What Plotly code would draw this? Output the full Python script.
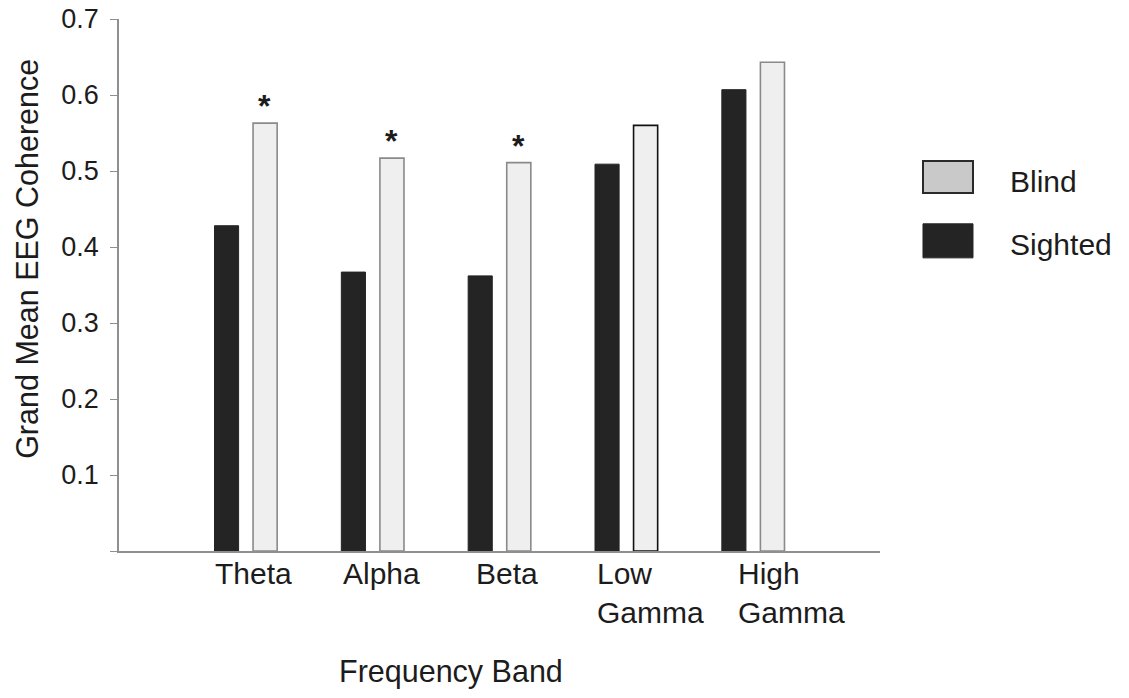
import plotly.graph_objects as go

# Frequency bands and grand-mean coherence per group
bands = ["Theta", "Alpha", "Beta", "Low Gamma", "High Gamma"]
band_labels = ["Theta", "Alpha", "Beta", "Low<br>Gamma", "High<br>Gamma"]
sighted = [0.428, 0.367, 0.362, 0.509, 0.607]
blind = [0.563, 0.517, 0.511, 0.560, 0.643]
significant = [True, True, True, False, False]
y_ticks = [0, 0.1, 0.2, 0.3, 0.4, 0.5, 0.6, 0.7]
y_tick_text = ["", "0.1", "0.2", "0.3", "0.4", "0.5", "0.6", "0.7"]

FONT = "Liberation Sans, Arial, Helvetica, sans-serif"
INK = "#1c1c1c"

fig = go.Figure()
fig.add_trace(go.Bar(
    x=bands, y=sighted, name="Sighted",
    marker=dict(color="#242424", line=dict(color="#242424", width=1)),
))
fig.add_trace(go.Bar(
    x=bands, y=blind, name="Blind",
    marker=dict(color="#efefef",
                line=dict(color=["#8a8a8a", "#8a8a8a", "#8a8a8a", "#111111", "#8a8a8a"],
                          width=1.6)),
))

annotations = []
# significance markers above the blind bars
for b, v, sig in zip(bands, blind, significant):
    if sig:
        annotations.append(dict(
            x=b, y=v, xref="x", yref="y", text="<b>*</b>", showarrow=False,
            xshift=19, yanchor="bottom", yshift=-3,
            font=dict(family=FONT, size=32, color=INK),
        ))

# category labels, left aligned under each pair of bars
label_shift = [-33, -32, -26, -31, -17]
for b, lab, dx in zip(bands, band_labels, label_shift):
    annotations.append(dict(
        x=b, y=0, xref="x", yref="paper", text=lab, showarrow=False,
        xanchor="left", yanchor="top", align="left", xshift=dx, yshift=-4,
        font=dict(family=FONT, size=30, color=INK),
    ))

# axis titles
annotations.append(dict(
    x=-0.121, y=0.549, xref="paper", yref="paper", text="Grand Mean EEG Coherence",
    textangle=-90, showarrow=False, xanchor="center", yanchor="middle",
    font=dict(family=FONT, size=30.5, color=INK),
))
annotations.append(dict(
    x=0.436, y=-0.227, xref="paper", yref="paper", text="Frequency Band",
    showarrow=False, xanchor="center", yanchor="middle",
    font=dict(family=FONT, size=30.5, color=INK),
))

# legend drawn as swatches with labels
shapes = [
    dict(type="rect", xref="paper", yref="paper", x0=1.0565, x1=1.1222, y0=0.673, y1=0.733,
         fillcolor="#c9c9c9", line=dict(color="#2a2a2a", width=2)),
    dict(type="rect", xref="paper", yref="paper", x0=1.0565, x1=1.1222, y0=0.551, y1=0.615,
         fillcolor="#242424", line=dict(color="#242424", width=1)),
]
for txt, yy in [("Blind", 0.695), ("Sighted", 0.577)]:
    annotations.append(dict(
        x=1.168, y=yy, xref="paper", yref="paper", text=txt, showarrow=False,
        xanchor="left", yanchor="middle",
        font=dict(family=FONT, size=30, color=INK),
    ))

fig.update_layout(
    width=1129, height=698,
    margin=dict(l=119, r=249, t=19, b=147, autoexpand=False),
    paper_bgcolor="white", plot_bgcolor="white",
    barmode="group", bargap=0.392, bargroupgap=0.375,
    showlegend=False,
    annotations=annotations, shapes=shapes,
    font=dict(family=FONT, color=INK),
)
fig.update_xaxes(
    range=[-1, 5], showline=True, linecolor="#8f8f8f", linewidth=1.5,
    showticklabels=False, ticks="", showgrid=False, zeroline=False,
    automargin=False,
)
fig.update_yaxes(
    range=[0, 0.7], tickvals=y_ticks, ticktext=y_tick_text,
    showline=True, linecolor="#8f8f8f", linewidth=1.5,
    ticks="outside", ticklen=7, tickcolor="#8f8f8f", tickwidth=1.2,
    ticklabelstandoff=6,
    tickfont=dict(family=FONT, size=27, color=INK),
    showgrid=False, zeroline=False, automargin=False,
)

fig.write_html("out.html")
